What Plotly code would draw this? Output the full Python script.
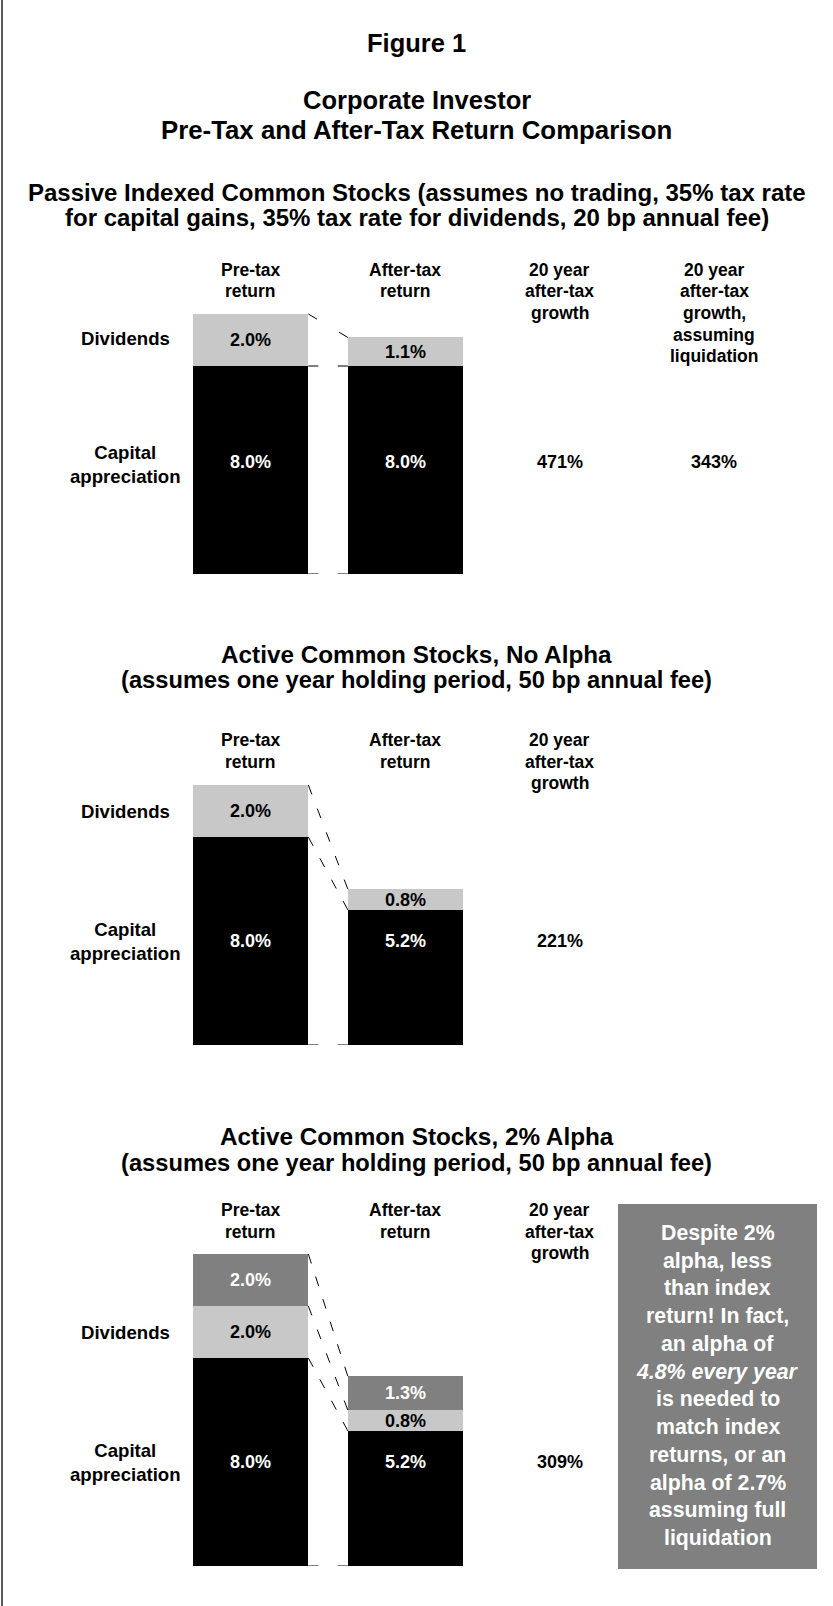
import math
import plotly.graph_objects as go

W, H = 833, 1606

# ---------------- data ----------------
segments = ["Capital appreciation", "Dividends", "Alpha"]
seg_colors = ["#000000", "#C8C8C8", "#808080"]
seg_text_colors = ["#FFFFFF", "#000000", "#FFFFFF"]
bar_positions = [0, 1]  # Pre-tax, After-tax

p1_pre = [8.0, 2.0]
p1_after = [8.0, 1.1]
p1_growth = [471, 343]

p2_pre = [8.0, 2.0]
p2_after = [5.2, 0.8]
p2_growth = [221]

p3_pre = [8.0, 2.0, 2.0]
p3_after = [5.2, 0.8, 1.3]
p3_growth = [309]

headers_p1 = [["Pre-tax", "return"], ["After-tax", "return"],
              ["20 year", "after-tax", "growth"],
              ["20 year", "after-tax", "growth,", "assuming", "liquidation"]]
headers_p23 = [["Pre-tax", "return"], ["After-tax", "return"],
               ["20 year", "after-tax", "growth"]]
row_labels = ["Capital<br>appreciation", "Dividends"]

fig_title = "Figure 1"
main_title = ["Corporate Investor", "Pre-Tax and After-Tax Return Comparison"]
panel_titles = [
    ["Passive Indexed Common Stocks (assumes no trading, 35% tax rate",
     "for capital gains, 35% tax rate for dividends, 20 bp annual fee)"],
    ["Active Common Stocks, No Alpha",
     "(assumes one year holding period, 50 bp annual fee)"],
    ["Active Common Stocks, 2% Alpha",
     "(assumes one year holding period, 50 bp annual fee)"],
]
note_lines = ["Despite 2%", "alpha, less", "than index", "return! In fact,",
              "an alpha of", "<i>4.8% every year</i>", "is needed to",
              "match index", "returns, or an", "alpha of 2.7%",
              "assuming full", "liquidation"]

panels = [
    dict(pre=p1_pre, after=p1_after, growth=p1_growth, headers=headers_p1),
    dict(pre=p2_pre, after=p2_after, growth=p2_growth, headers=headers_p23),
    dict(pre=p3_pre, after=p3_after, growth=p3_growth, headers=headers_p23),
]

# ---------------- layout constants (pixels) ----------------
FONT = "Liberation Sans, Arial, Helvetica, sans-serif"
PX_PER_PCT = 26.0
Y_MAX = 12.0
COL0_PX = 250.8
COL_STEP = 154.5
BAR_W = 115.0 / COL_STEP
base_px = [574, 1045, 1566]
title_px = [(192, 218), (654, 680), (1136, 1163)]
header_px = [270, 740, 1210]
HEADER_STEP = 21.5
cap_label_shift_px = [-8, 0, 0]   # vertical nudge of the capital-row labels


def py(px):
    return 1 - px / H


def pxx(px):
    return px / W


fig = go.Figure()
annotations = []
shapes = []


def add_text(text, x, y, xref="paper", yref="paper", size=18, color="black",
             xanchor="center", yanchor="middle", yshift=0):
    annotations.append(dict(text=text, x=x, y=y, xref=xref, yref=yref,
                            showarrow=False, xanchor=xanchor, yanchor=yanchor,
                            yshift=yshift,
                            font=dict(family=FONT, size=size, color=color, weight=700)))


x_range = [-COL0_PX / COL_STEP, (W - COL0_PX) / COL_STEP]

for i, pnl in enumerate(panels):
    n = i + 1
    xa = "x" if n == 1 else f"x{n}"
    ya = "y" if n == 1 else f"y{n}"
    bpx = base_px[i]
    shift = -cap_label_shift_px[i]
    dom = [py(bpx), py(bpx - Y_MAX * PX_PER_PCT)]
    fig.layout[f"xaxis{'' if n == 1 else n}"] = dict(
        domain=[0, 1], range=x_range, visible=False, fixedrange=True, anchor=ya)
    fig.layout[f"yaxis{'' if n == 1 else n}"] = dict(
        domain=dom, range=[0, Y_MAX], visible=False, fixedrange=True, anchor=xa)

    # stacked bars
    for k in range(len(pnl["pre"])):
        is_cap = (k == 0)
        fig.add_trace(go.Bar(
            x=bar_positions, y=[pnl["pre"][k], pnl["after"][k]],
            width=BAR_W, marker=dict(color=seg_colors[k], line=dict(width=0)),
            texttemplate="%{y:.1f}%", textposition="none" if is_cap else "inside",
            insidetextanchor="middle", textangle=0,
            textfont=dict(family=FONT, size=18, color=seg_text_colors[k], weight=700),
            name=segments[k], showlegend=False, hoverinfo="skip",
            xaxis=xa, yaxis=ya))
        if is_cap:
            # capital appreciation labels sit level with the pre-tax label
            for xb, v in zip(bar_positions, [pnl["pre"][k], pnl["after"][k]]):
                add_text(f"{v:.1f}%", xb, pnl["pre"][0] / 2, xref=xa, yref=ya,
                         size=18, color=seg_text_colors[k], yshift=shift)

    # dashed series lines between the two bars
    cum_pre = [0.0]
    cum_after = [0.0]
    for k in range(len(pnl["pre"])):
        cum_pre.append(cum_pre[-1] + pnl["pre"][k])
        cum_after.append(cum_after[-1] + pnl["after"][k])
    x0 = bar_positions[0] + BAR_W / 2
    x1 = bar_positions[1] - BAR_W / 2
    for k in range(len(cum_pre)):
        dxp = (x1 - x0) * COL_STEP
        dyp = (cum_pre[k] - cum_after[k]) * PX_PER_PCT
        L = math.hypot(dxp, dyp)
        nd = max(2, round((L + 14) / 24))
        gap = (L - 10 * nd) / (nd - 1)
        fig.add_trace(go.Scatter(
            x=[x0, x1], y=[cum_pre[k], cum_after[k]], mode="lines",
            line=dict(color="black", width=1, dash=f"10px,{gap:.1f}px"),
            showlegend=False, hoverinfo="skip", xaxis=xa, yaxis=ya))

    # panel title
    tsizes = [24, 24] if i == 0 else [24.3, 23.7]
    for t, ypx, ts in zip(panel_titles[i], title_px[i], tsizes):
        add_text(t, 0.5, py(ypx), size=ts)

    # column headers
    for c, lines in enumerate(pnl["headers"]):
        for j, line in enumerate(lines):
            add_text(line, c, py(header_px[i] + j * HEADER_STEP), xref=xa, size=17.5)

    # row labels
    add_text(row_labels[0], -0.81, pnl["pre"][0] / 2, xref=xa, yref=ya, size=18.6,
             yshift=shift * 0.75)
    add_text(row_labels[1], -0.81, pnl["pre"][0] + pnl["pre"][1] / 2, xref=xa, yref=ya,
             size=18.6, yshift=2 if i == 0 else 0)

    # 20-year growth values
    for g, val in enumerate(pnl["growth"]):
        add_text(f"{val}%", 2 + g, pnl["pre"][0] / 2, xref=xa, yref=ya, size=18,
                 yshift=shift)

# main titles
add_text(fig_title, 0.5, py(43), size=25.5)
add_text(main_title[0], 0.5, py(100), size=25.5)
add_text(main_title[1], 0.5, py(130), size=25.8)

# note box
shapes.append(dict(type="rect", xref="paper", yref="paper",
                   x0=pxx(618), x1=pxx(817), y0=py(1569), y1=py(1204),
                   fillcolor="#808080", line=dict(width=0), layer="below"))
for j, line in enumerate(note_lines):
    add_text(line, pxx(717.5), py(1233 + j * 27.73), size=21.3, color="white")

# left border
shapes.append(dict(type="line", xref="paper", yref="paper",
                   x0=pxx(2), x1=pxx(2), y0=0, y1=1,
                   line=dict(color="#222222", width=1.5)))

fig.update_layout(
    width=W, height=H, margin=dict(l=0, r=0, t=0, b=0),
    paper_bgcolor="white", plot_bgcolor="white",
    barmode="stack", bargap=0,
    uniformtext=dict(minsize=18, mode="show"),
    annotations=annotations, shapes=shapes,
    font=dict(family=FONT),
)

fig.write_html("out.html", config={"displayModeBar": False},
               post_script="document.body.style.margin='0px';")
